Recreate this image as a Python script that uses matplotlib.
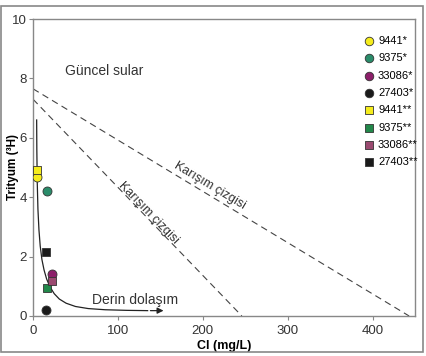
import matplotlib
matplotlib.use("Agg")
import matplotlib.pyplot as plt
from matplotlib.patches import Rectangle

plt.rcParams['font.family'] = ['Liberation Sans', 'DejaVu Sans']

# Sample data (Cl mg/L, Tritium TU)
labels = ['9441*', '9375*', '33086*', '27403*', '9441**', '9375**', '33086**', '27403**']
cl = [5, 16.8, 22.4, 15, 5, 16, 22.7, 15]
tritium = [4.69, 4.2, 1.40, 0.2, 4.92, 0.95, 1.18, 2.17]
colors = ['#f5ec1c', '#2a8c6a', '#8c1f6a', '#1a1a1a', '#f5ec1c', '#22884a', '#9a4a70', '#1a1a1a']
markers = ['o', 'o', 'o', 'o', 's', 's', 's', 's']

# Mixing lines: (Cl, tritium) end points
mix_upper_x = [0, 443]
mix_upper_y = [7.65, 0]
mix_lower_x = [0, 246]
mix_lower_y = [7.3, 0]

# Deep circulation trend curve
curve_x = [4.3, 4.5, 5.0, 5.8, 7.0, 8.5, 10.5, 13, 16, 20, 25, 31, 39, 50, 65, 85, 110, 135, 157]
curve_y = [6.6, 5.6, 4.5, 3.6, 2.9, 2.35, 1.9, 1.55, 1.25, 0.98, 0.75, 0.57, 0.43, 0.32, 0.25, 0.21, 0.19, 0.18, 0.18]

fig = plt.figure(figsize=(4.27, 3.56), dpi=100)
ax = fig.add_axes([0.0773, 0.1124, 0.8947, 0.8342])
fig.patches.append(Rectangle((0.003, 0.011), 0.988, 0.972, transform=fig.transFigure,
                             fill=False, edgecolor='#888888', linewidth=1.2))

ax.plot(mix_upper_x, mix_upper_y, linestyle=(0, (6, 4)), color='#444444', linewidth=0.8)
ax.plot(mix_lower_x, mix_lower_y, linestyle=(0, (6, 4)), color='#444444', linewidth=0.8)

ax.plot(curve_x[:-1], curve_y[:-1], color='#222222', linewidth=0.9)
ax.annotate('', xy=(curve_x[-1], curve_y[-1]), xytext=(curve_x[-2], curve_y[-2]),
            arrowprops=dict(arrowstyle='-|>', color='#222222', lw=0.9, mutation_scale=9))

for x, y, c, m, l in zip(cl, tritium, colors, markers, labels):
    ax.scatter([x], [y], c=c, marker=m, s=42 if m == 'o' else 32, edgecolors='#333333',
               linewidths=0.6, label=l, zorder=5)

ax.text(38, 8.25, 'Güncel sular', fontsize=10, color='#333333', ha='left', va='center')
ax.text(70, 0.55, 'Derin dolaşım', fontsize=10, color='#333333', ha='left', va='center')
ax.text(208, 4.38, 'Karışım çizgisi', fontsize=9, color='#333333', rotation=-31,
        ha='center', va='center', rotation_mode='anchor')
ax.text(136, 3.47, 'Karışım çizgisi', fontsize=9, color='#333333', rotation=-46,
        ha='center', va='center', rotation_mode='anchor')

ax.set_xlim(0, 450)
ax.set_ylim(0, 10)
ax.set_xticks([0, 100, 200, 300, 400])
ax.set_yticks([0, 2, 4, 6, 8, 10])
ax.set_xlabel('Cl (mg/L)', fontsize=9, fontweight='bold')
ax.set_ylabel('Trityum (³H)', fontsize=8.5, fontweight='bold')
ax.xaxis.set_label_coords(0.5, -0.081)
ax.yaxis.set_label_coords(-0.037, 0.5)
ax.tick_params(labelsize=9.5, colors='#333333', length=3, color='#888888')
ax.tick_params(axis='y', pad=1.5)
for s in ax.spines.values():
    s.set_color('#888888')
    s.set_linewidth(1.0)

ax.legend(loc='upper right', frameon=False, fontsize=8, handletextpad=0.1,
          labelspacing=0.66, borderaxespad=0.2, handlelength=1.5, markerscale=0.95,
          bbox_to_anchor=(1.025, 0.965))

fig.savefig('out.png', dpi=100)
